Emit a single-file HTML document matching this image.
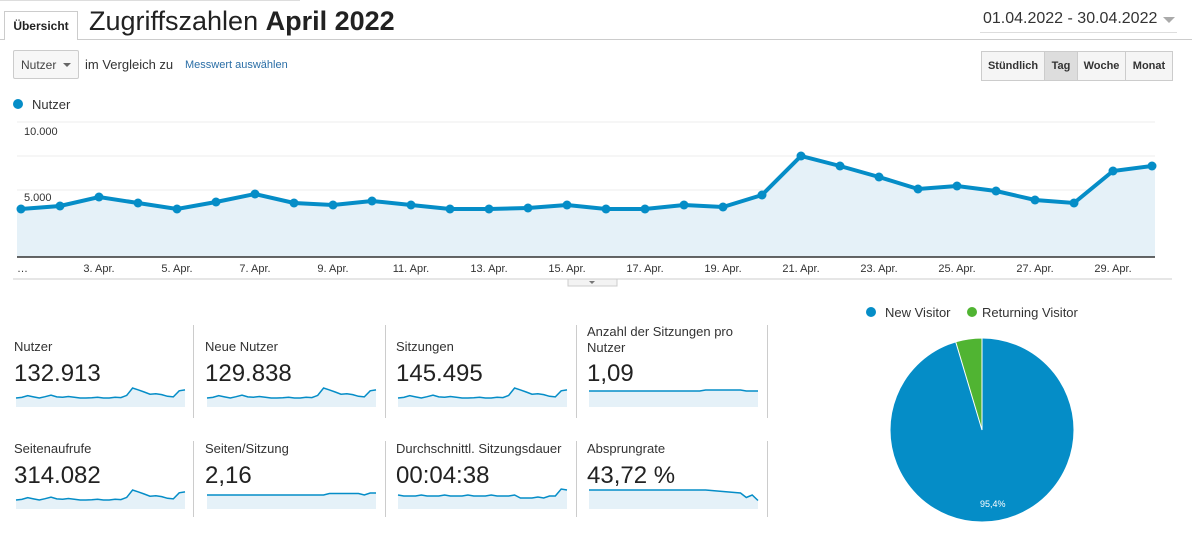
<!DOCTYPE html>
<html><head><meta charset="utf-8"><style>
body{margin:0;width:1192px;height:534px;background:#fff;font-family:"Liberation Sans",Arial,sans-serif;position:relative;overflow:hidden;color:#222}
.a{position:absolute}
.lbl{font-size:13px;color:#333}
.val{font-size:24px;color:#222}
.sep{position:absolute;width:1px;background:#ccc}
.btn{position:absolute;top:51px;height:28px;border:1px solid #ccc;background:#f5f5f5;font-size:11px;font-weight:bold;color:#333;line-height:28px;text-align:center}
</style></head><body>
<div class="a" style="left:0;top:0;width:300px;height:1px;background:#ddd"></div>
<div class="a" style="left:0;top:39px;width:1192px;height:1px;background:#ccc"></div>
<div class="a" style="left:4px;top:11px;width:72px;height:28px;border:1px solid #ccc;border-bottom:none;background:#fff;font-size:12px;font-weight:bold;line-height:28px;text-align:center">Übersicht</div>
<div class="a" style="left:89px;top:6px;font-size:27px;color:#222">Zugriffszahlen <b>April 2022</b></div>
<div class="a" style="left:983px;top:10px;font-size:16px;color:#333">01.04.2022 - 30.04.2022</div>
<div class="a" style="left:1163px;top:17px;width:0;height:0;border-left:6px solid transparent;border-right:6px solid transparent;border-top:6px solid #aaa"></div>
<div class="a" style="left:980px;top:32px;width:197px;height:1px;background:#ddd"></div>
<div class="a" style="left:13px;top:50px;width:66px;height:29px;border:1px solid #ccc;border-radius:2px;background:#f7f7f7;font-size:12px;line-height:29px;color:#444;padding-left:7px;box-sizing:border-box">Nutzer</div>
<div class="a" style="left:63px;top:63px;border-left:4px solid transparent;border-right:4px solid transparent;border-top:4px solid #666"></div>
<div class="a" style="left:85px;top:57px;font-size:13px;color:#333">im Vergleich zu</div>
<div class="a" style="left:185px;top:59px;font-size:11px;color:#2a6ea6">Messwert auswählen</div>
<div class="btn" style="left:981px;width:62px">Stündlich</div>
<div class="btn" style="left:1044px;width:32px;background:#ddd">Tag</div>
<div class="btn" style="left:1077px;width:47px">Woche</div>
<div class="btn" style="left:1125px;width:46px">Monat</div>
<div class="a" style="left:13px;top:99px;width:10px;height:10px;border-radius:50%;background:#058dc7"></div>
<div class="a" style="left:32px;top:97px;font-size:13px;color:#333">Nutzer</div>
<svg class="a" style="left:0;top:0" width="1192" height="534" id="s">
<line x1="17" y1="122" x2="1155" y2="122" stroke="#eee"/>
<line x1="17" y1="156" x2="1155" y2="156" stroke="#eee"/>
<line x1="17" y1="190" x2="1155" y2="190" stroke="#eee"/>
<line x1="17" y1="224" x2="1155" y2="224" stroke="#eee"/>
<text x="24" y="135" font-size="11" fill="#333">10.000</text>
<text x="24" y="201" font-size="11" fill="#333">5.000</text>
<g id="main"></g>
<line x1="17" y1="257" x2="1155" y2="257" stroke="#333" stroke-width="1.5"/>
<line x1="13" y1="279" x2="1172" y2="279" stroke="#ccc"/>
<rect x="568" y="279" width="49" height="7" fill="#f3f3f3" stroke="#ccc"/>
<path d="M589 281 l6 0 l-3 3z" fill="#777"/>
<g font-size="11" fill="#333" id="ticks"><text x="17" y="272">…</text></g>
<g id="sp"></g>
<circle cx="871" cy="312" r="5" fill="#058dc7"/><text x="885" y="317" font-size="13" fill="#333">New Visitor</text>
<circle cx="972" cy="312" r="5" fill="#50b432"/><text x="982" y="317" font-size="13" fill="#333">Returning Visitor</text>
<circle cx="982" cy="430" r="92" fill="#058dc7" stroke="#fff"/>
<path d="M982 430 L982 338 A92 92 0 0 0 955.7 341.8Z" fill="#50b432" stroke="#fff"/>
<text x="980" y="507" font-size="9" fill="#fff">95,4%</text>
</svg>
<div class="sep" style="left:193px;top:325px;height:93px"></div>
<div class="sep" style="left:385px;top:325px;height:93px"></div>
<div class="sep" style="left:576px;top:325px;height:93px"></div>
<div class="sep" style="left:767px;top:325px;height:93px"></div>
<div class="sep" style="left:193px;top:441px;height:76px"></div>
<div class="sep" style="left:385px;top:441px;height:76px"></div>
<div class="sep" style="left:576px;top:441px;height:76px"></div>
<div class="sep" style="left:767px;top:441px;height:76px"></div>
<div class="a lbl" style="left:14px;top:339px">Nutzer</div><div class="a val" style="left:14px;top:360px">132.913</div>
<div class="a lbl" style="left:205px;top:339px">Neue Nutzer</div><div class="a val" style="left:205px;top:360px">129.838</div>
<div class="a lbl" style="left:396px;top:339px">Sitzungen</div><div class="a val" style="left:396px;top:360px">145.495</div>
<div class="a lbl" style="left:587px;top:324px;width:160px;line-height:16px">Anzahl der Sitzungen pro Nutzer</div><div class="a val" style="left:587px;top:360px">1,09</div>
<div class="a lbl" style="left:14px;top:441px">Seitenaufrufe</div><div class="a val" style="left:14px;top:462px">314.082</div>
<div class="a lbl" style="left:205px;top:441px">Seiten/Sitzung</div><div class="a val" style="left:205px;top:462px">2,16</div>
<div class="a lbl" style="left:396px;top:441px">Durchschnittl. Sitzungsdauer</div><div class="a val" style="left:396px;top:462px">00:04:38</div>
<div class="a lbl" style="left:587px;top:441px">Absprungrate</div><div class="a val" style="left:587px;top:462px">43,72 %</div>
<script>
var Y=[209,206,197,203,209,202,194,203,205,201,205,209,209,208,205,209,209,205,207,195,156,166,177,189,186,191,200,203,171,166];
var X=Y.map((v,i)=>21+i*39);
var ns='http://www.w3.org/2000/svg';
function el(p,t,a){var e=document.createElementNS(ns,t);for(var k in a)e.setAttribute(k,a[k]);p.appendChild(e);return e}
var m=document.getElementById('main');
var pts=X.map((x,i)=>x+','+Y[i]).join(' ');
el(m,'polygon',{points:'17,257 17,209 '+pts+' 1155,166 1155,257',fill:'#e5f1f8'});
el(m,'polyline',{points:'17,209 '+pts+' 1155,166',fill:'none',stroke:'#058dc7','stroke-width':4});
X.forEach((x,i)=>el(m,'circle',{cx:x,cy:Y[i],r:4.5,fill:'#058dc7'}));
var t=document.getElementById('ticks');
for(var d=3;d<=29;d+=2){var e=el(t,'text',{x:X[d-1],y:272,'text-anchor':'middle'});e.textContent=d+'. Apr.';}
var sp=document.getElementById('sp');
var base=Y.map(v=>(209-v)/53*10);
var sets=[
 [16,407,base.map(v=>v+1)],
 [207,407,base.map(v=>v+1)],
 [398,407,base.map(v=>v+1)],
 [589,407,Y.map((v,i)=>8+(i>19&&i<27?1:0))],
 [16,509,base.map(v=>v+1)],
 [207,509,Y.map((v,i)=>6+(i>20&&i<27?1.5:0)+(i>27?2:0))],
 [398,509,Y.map((v,i)=>5+(i%4==0?1:0)+(i>20&&i<26?-2:0)+(i>27?6:0))],
 [589,509,Y.map((v,i)=>11+(i>20?-(i-20)*0.5:0)+(i==27?-4:0)+(i==28?-1:0)+(i==29?-6:0))]];
sets.forEach(s=>{var x0=s[0],yb=s[1],w=169;var vals=s[2];
 var p=vals.map((v,i)=>(x0+i*w/29).toFixed(1)+','+(yb-8-v).toFixed(1)).join(' ');
 el(sp,'polygon',{points:x0+','+yb+' '+p+' '+(x0+w)+','+yb,fill:'#e5f1f8'});
 el(sp,'polyline',{points:p,fill:'none',stroke:'#058dc7','stroke-width':1.5});});
</script>
</body></html>
